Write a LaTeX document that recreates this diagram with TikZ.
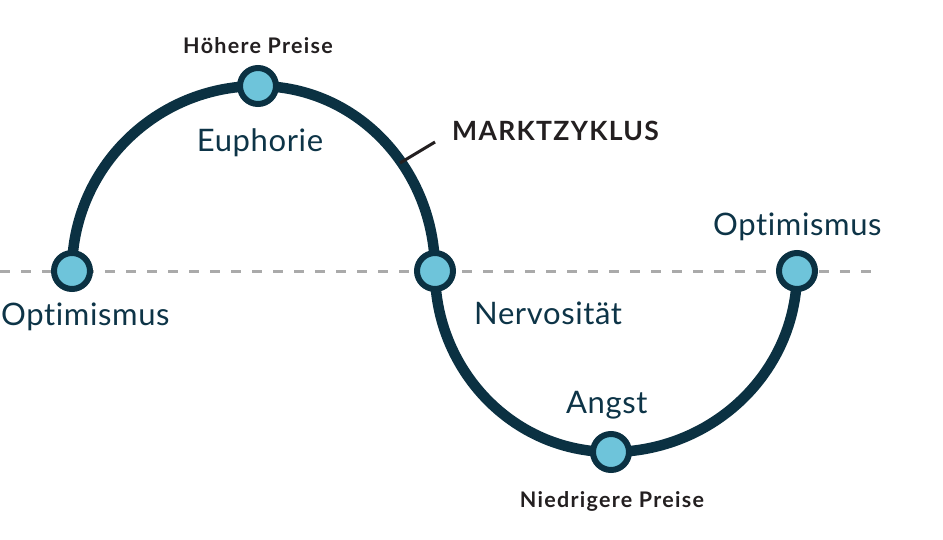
\documentclass[tikz,border=0pt]{standalone}
\usepackage{fontspec}
\setmainfont{Lato}[Ligatures=NoCommon]
\newfontfamily\phasefont{Lato}[Ligatures=NoCommon,LetterSpace=2]
\newfontfamily\boldfont{Lato}[Ligatures=NoCommon,LetterSpace=6,UprightFont=* Bold]
\newfontfamily\titlefont{Lato}[Ligatures=NoCommon,LetterSpace=5,UprightFont=* Bold]
\definecolor{curve}{RGB}{11,49,66}
\definecolor{dotfill}{RGB}{110,196,218}
\definecolor{tealtext}{RGB}{13,52,71}
\definecolor{blacktext}{RGB}{35,31,32}
\definecolor{dashgray}{RGB}{170,170,170}
\begin{document}
\begin{tikzpicture}[x=1pt,y=-1pt,
  dot/.style={circle,draw=curve,fill=dotfill,line width=6pt,minimum size=36pt,inner sep=0pt},
  phase/.style={text=tealtext,font=\phasefont\fontsize{31}{31}\selectfont,inner sep=0pt},
  price/.style={text=blacktext,font=\boldfont\fontsize{21.5}{21.5}\selectfont,inner sep=0pt},
  title/.style={text=blacktext,font=\titlefont\fontsize{26.5}{26.5}\selectfont,inner sep=0pt},
  cycle/.style={draw=curve,line width=10.5pt},
  axis/.style={draw=dashgray,line width=3pt,dash pattern=on 10pt off 11pt}]
\useasboundingbox (0,0) rectangle (943,539);
\coordinate (p1) at (72,271);
\coordinate (p2) at (258,86);
\coordinate (p3) at (435,271);
\coordinate (p4) at (611,452);
\coordinate (p5) at (797,271);
\coordinate (axL) at (0,271);
\coordinate (axR) at (878,271);
\path[axis] (axL) -- (axR);
\path[cycle] (p1) to[out=90,in=180] (p2) to[out=0,in=90] (p3)
  to[out=-90,in=180] (p4) to[out=0,in=-90] (p5);
\node[dot] (n1) at (p1) {};
\node[dot] (n2) at (p2) {};
\node[dot] (n3) at (p3) {};
\node[dot] (n4) at (p4) {};
\node[dot] (n5) at (p5) {};
\coordinate (lead1) at (400,163);
\coordinate (lead2) at (435,142);
\draw[blacktext,line width=3pt] (lead1) -- (lead2);
\node[title,anchor=base west] (mz) at (452,140) {MARKTZYKLUS};
\node[price,anchor=base] (hp) at (258,53) {Höhere Preise};
\node[price,anchor=base] (np) at (612,507) {Niedrigere Preise};
\node[phase,anchor=base] (eu) at (260,151) {Euphorie};
\node[phase,anchor=base west] (o1) at (1,325) {Optimismus};
\node[phase,anchor=base west] (o2) at (713,235) {Optimismus};
\node[phase,anchor=base west] (ne) at (474,324) {Nervosität};
\node[phase,anchor=base west] (an) at (566,413) {Angst};
\end{tikzpicture}
\end{document}
